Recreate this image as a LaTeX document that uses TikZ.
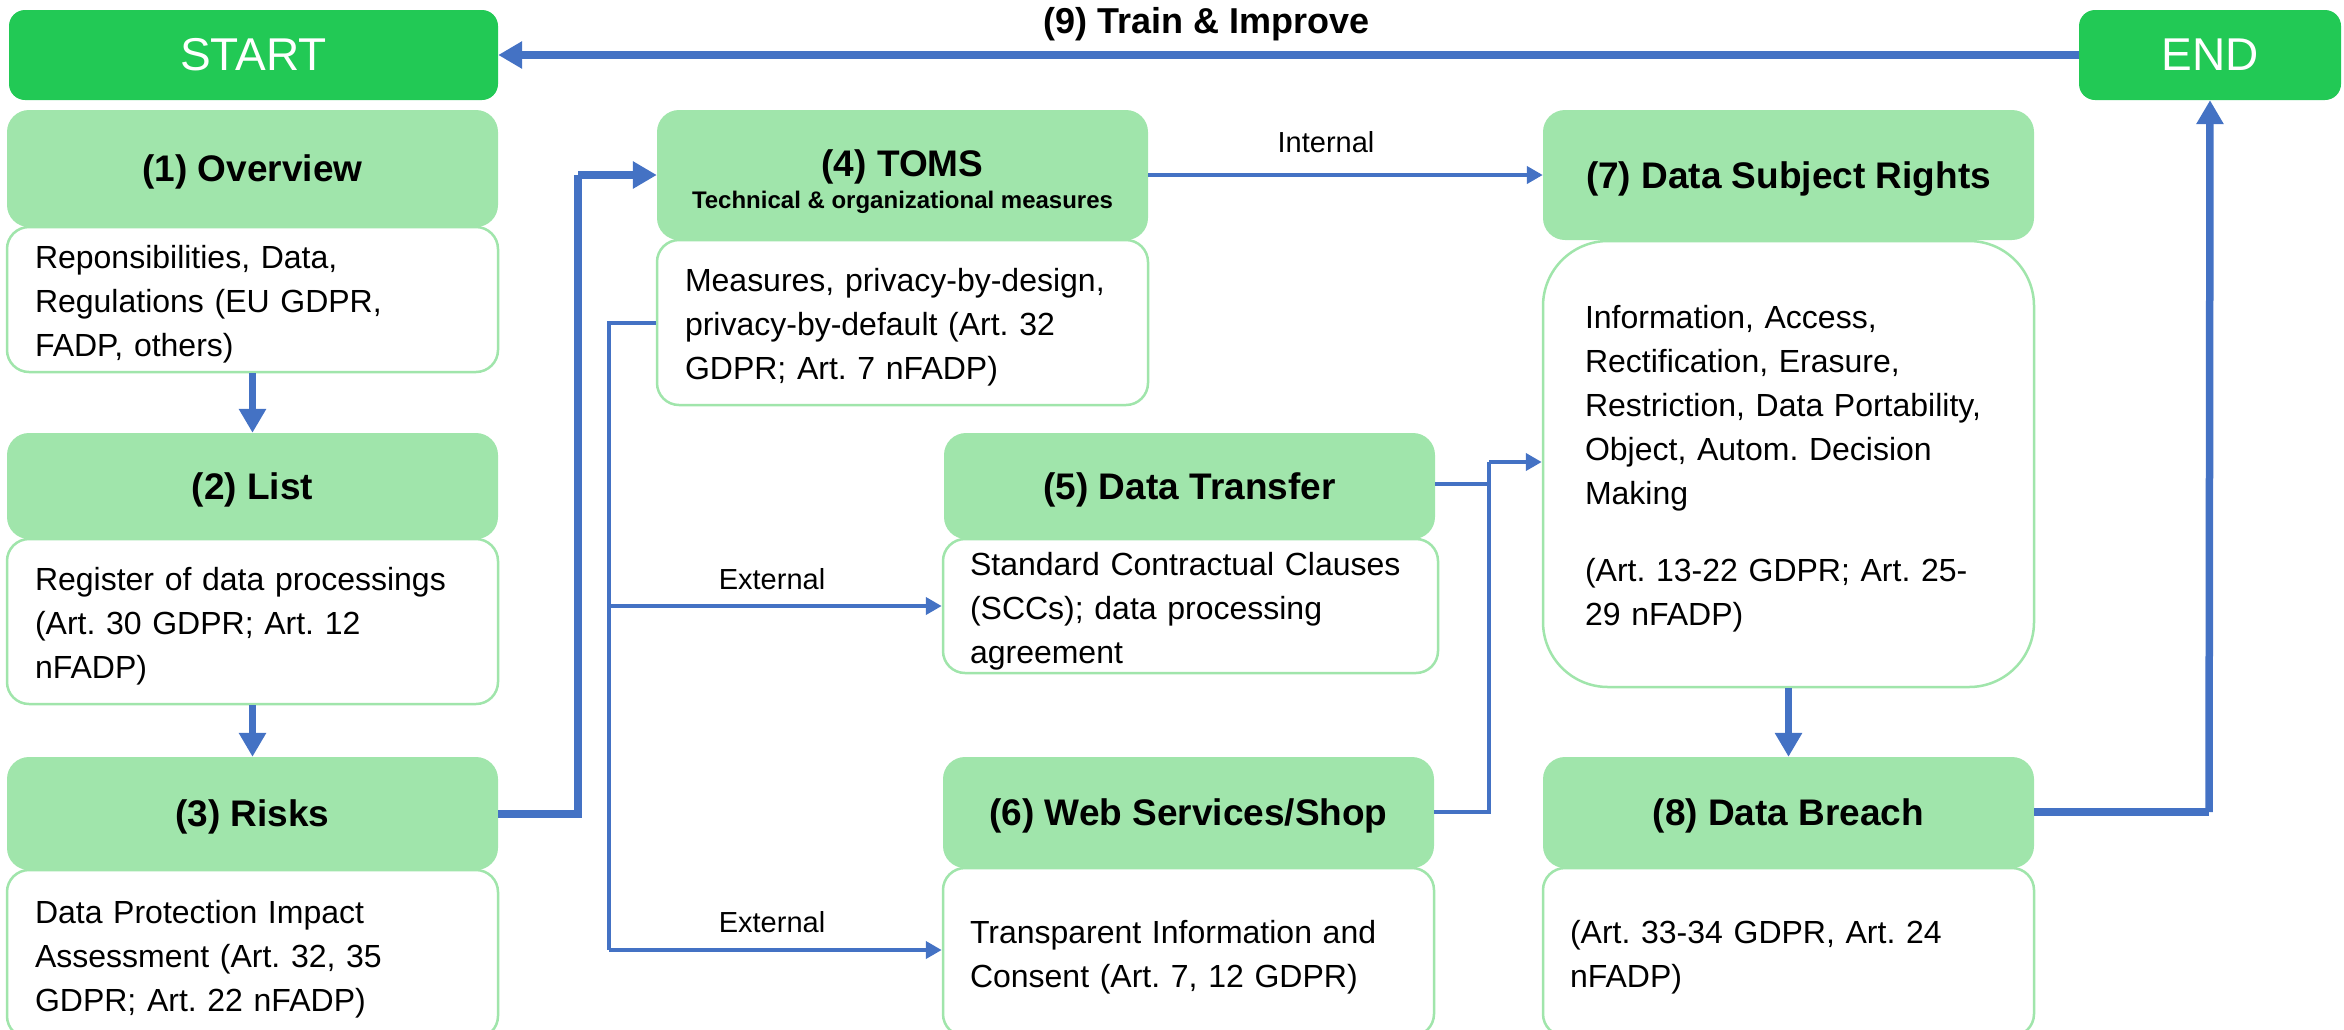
\documentclass[tikz,border=0pt]{standalone}
\usepackage{fontspec}
\setmainfont{Liberation Sans}
\usetikzlibrary{arrows.meta}
\definecolor{termgreen}{HTML}{22C955}
\definecolor{hdrgreen}{HTML}{A0E5AB}
\definecolor{linkblue}{HTML}{4472C4}
\frenchspacing
\newcommand{\firstline}{\rule{0pt}{33pt}}
\begin{document}
\begin{tikzpicture}[x=1pt,y=-1pt,
  term/.style={fill=termgreen, draw=none, rounded corners=16pt, text=white,
    font=\fontsize{46}{50}\selectfont, minimum height=90pt, inner sep=0pt},
  hdr/.style={fill=hdrgreen, draw=none, rounded corners=22pt, text depth=0pt,
    font=\fontsize{37}{42}\selectfont\bfseries, minimum width=491pt, inner sep=0pt, align=center},
  bodybox/.style={fill=white, draw=hdrgreen, line width=2.5pt, rounded corners=22pt,
    font=\fontsize{32}{44}\selectfont, align=left, inner xsep=28pt, inner ysep=0pt, text width=435pt},
  bigline/.style={draw=linkblue, line width=7.5pt},
  smallline/.style={draw=linkblue, line width=4.5pt},
  bigarrow/.style={bigline, -{Triangle[length=24pt,width=26pt]}},
  smallarrow/.style={smallline, -{Triangle[length=16pt,width=17pt]}},
  lbl/.style={font=\fontsize{29}{34}\selectfont, inner sep=0pt},
  toplbl/.style={font=\fontsize{36}{40}\selectfont\bfseries, inner sep=0pt}
]
\useasboundingbox (0,0) rectangle (2344,1029);

% terminals
\node[term, minimum width=489pt] (start) at (253.5,55) {START};
\node[term, minimum width=262pt] (end) at (2210,55) {END};

% column 1
\node[bodybox, minimum height=145pt] (b1) at (252.5,299.5)
  {\firstline Reponsibilities, Data,\\Regulations (EU GDPR,\\FADP, others)};
\node[hdr, minimum height=117pt] (h1) at (252.5,168.5) {(1) Overview};

\node[bodybox, minimum height=165pt] (b2) at (252.5,621.5)
  {\firstline Register of data processings\\(Art. 30 GDPR; Art. 12\\nFADP)};
\node[hdr, minimum height=106pt] (h2) at (252.5,486) {(2) List};

\node[bodybox, minimum height=168pt] (b3) at (252.5,954)
  {\firstline Data Protection Impact\\Assessment (Art. 32, 35\\GDPR; Art. 22 nFADP)};
\node[hdr, minimum height=113pt] (h3) at (252.5,813.5) {(3) Risks};

% TOMS
\node[bodybox, minimum height=165pt] (b4) at (902.5,322.5)
  {\firstline Measures, privacy-by-design,\\privacy-by-default (Art. 32\\GDPR; Art. 7 nFADP)};
\node[hdr, minimum height=130pt, font=\fontsize{37}{32}\selectfont\bfseries] (h4) at (902.5,175)
  {\rule{0pt}{34pt}(4) TOMS\\{\fontsize{24}{32}\selectfont Technical \& organizational measures}};

% Data transfer
\node[bodybox, minimum height=134pt, text width=441pt, inner xsep=27pt] (b5) at (1190.5,606)
  {\firstline Standard Contractual Clauses\\(SCCs); data processing\\agreement};
\node[hdr, minimum height=106pt] (h5) at (1189.5,486) {(5) Data Transfer};

% Web services
\node[bodybox, minimum height=168pt, text width=437pt, inner xsep=27pt] (b6) at (1188.5,952)
  {\firstline Transparent Information and\\Consent (Art. 7, 12 GDPR)};
\node[hdr, minimum height=111pt] (h6) at (1188.5,812.5) {(6) Web Services/Shop};

% Data subject rights
\node[bodybox, minimum height=446pt, rounded corners=65pt, text width=407pt, inner xsep=42pt] (b7) at (1788.5,464)
  {\firstline Information, Access,\\Rectification, Erasure,\\Restriction, Data Portability,\\Object, Autom. Decision\\Making\\[33pt](Art. 13-22 GDPR; Art. 25-\\29 nFADP)};
\node[hdr, minimum height=130pt] (h7) at (1788.5,175) {(7) Data Subject Rights};

% Data breach
\node[bodybox, minimum height=168pt, text width=437pt, inner xsep=27pt] (b8) at (1788.5,952)
  {\firstline (Art. 33-34 GDPR, Art. 24\\nFADP)};
\node[hdr, minimum height=111pt] (h8) at (1788.5,812.5) {(8) Data Breach};

% helper coordinates
\coordinate (riskup) at (578,814);
\coordinate (tomsin) at (578,175);
\coordinate (extv) at (609,323);
\coordinate (ext5) at (609,606);
\coordinate (ext6) at (609,950);
\coordinate (mergetop) at (1489,462);
\coordinate (merge5) at (1489,484);
\coordinate (merge6) at (1489,812);
\coordinate (endturn) at (2209,812);

% connectors
\draw[bigarrow] (end.west) -- node[toplbl, pos=0.5, yshift=31pt, xshift=-82pt] (trainlbl) {(9) Train \& Improve} (start.east);
\draw[bigarrow] (b1.south) -- (h2.north);
\draw[bigarrow] (b2.south) -- (h3.north);
\draw[bigline] (h3.east |- riskup) -- (riskup) -- (tomsin);
\draw[bigarrow] (tomsin) -- (h4.west |- tomsin);
\draw[smallline] (b4.west |- extv) -- (extv) -- (ext6);
\draw[smallarrow] (ext6) -- (b6.west |- ext6);
\draw[smallarrow] (ext5) -- (b5.west |- ext5);
\node[lbl] (extlbl1) at (772,579) {External};
\node[lbl] (extlbl2) at (772,922) {External};
\draw[smallarrow] (h4.east) -- (h7.west);
\node[lbl] (intlbl) at (1326,142) {Internal};
\draw[smallline] (h5.east |- merge5) -- (merge5);
\draw[smallline] (h6.east |- merge6) -- (merge6) -- (mergetop);
\draw[smallarrow] (mergetop) -- (b7.west |- mergetop);
\draw[bigarrow] (b7.south) -- (h8.north);
\draw[bigline] (h8.east |- endturn) -- (endturn);
\draw[bigarrow] (endturn) -- (end.south);
\end{tikzpicture}
\end{document}
